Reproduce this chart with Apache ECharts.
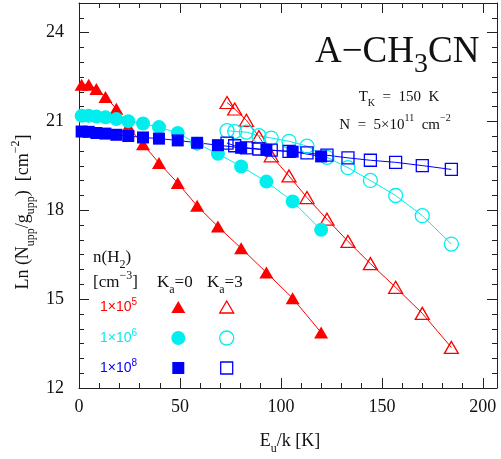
<!DOCTYPE html>
<html>
<head>
<meta charset="utf-8">
<script src="https://cdn.jsdelivr.net/npm/echarts@6/dist/echarts.min.js"></script>
<style>
  html, body { margin: 0; padding: 0; background: #ffffff; }
  #chart { width: 501px; height: 459px; }
</style>
</head>
<body>
<div id="chart"></div>
<script>
// Upper-level energies (K) of the K=0 and K=3 ladders
const energyK0 = [1.3, 4.8, 8.6, 13.1, 18.5, 24.4, 31.7, 39.6, 48.9, 58.5, 68.8, 80.3, 92.8, 105.8, 119.9];
const energyK3 = [73.3, 77.1, 82.9, 89.1, 95.2, 104.0, 112.9, 122.8, 133.2, 144.3, 156.8, 170.0, 184.4];

// Ln(Nupp/gupp) for n(H2) = 1e5, 1e6, 1e8 cm^-3
const lnK0_n5 = [22.24, 22.24, 22.10, 21.83, 21.43, 20.83, 20.23, 19.60, 18.92, 18.15, 17.45, 16.72, 15.90, 15.03, 13.87];
const lnK3_n5 = [21.64, 21.42, 21.04, 20.49, 19.84, 19.16, 18.43, 17.70, 16.95, 16.20, 15.40, 14.52, 13.37];
const lnK0_n6 = [21.19, 21.19, 21.17, 21.14, 21.08, 21.01, 20.93, 20.81, 20.61, 20.25, 19.91, 19.48, 18.97, 18.30, 17.34];
const lnK3_n6 = [20.69, 20.66, 20.64, 20.52, 20.44, 20.33, 20.17, 19.79, 19.44, 19.01, 18.50, 17.82, 16.86];
const lnK0_n8 = [20.66, 20.65, 20.61, 20.59, 20.55, 20.51, 20.46, 20.42, 20.36, 20.28, 20.20, 20.11, 20.04, 19.98, 19.82];
const lnK3_n8 = [20.27, 20.18, 20.11, 20.07, 20.03, 19.99, 19.94, 19.86, 19.77, 19.69, 19.62, 19.51, 19.38];

// Axis tick labels
const xTickLabels = [0, 50, 100, 150, 200];
const yTickLabels = [12, 15, 18, 21, 24];

const RED = '#ff0000', CYAN = '#00eeee', BLUE = '#0000ff';
const SERIF = '"Liberation Serif", "DejaVu Serif", serif';
const SANS = '"Liberation Sans", "DejaVu Sans", sans-serif';

const TRI = [14, 12], CIRC = 14, SQ = 12;

function ladder(xs, ys, color, symbol, size, filled) {
  return {
    type: 'line',
    data: xs.map((x, i) => [x, ys[i]]),
    symbol: symbol,
    symbolSize: size,
    showAllSymbol: true,
    lineStyle: { color: color, width: 1 },
    itemStyle: filled
      ? { color: color, borderWidth: 0 }
      : { color: 'rgba(255,255,255,0)', borderColor: color, borderWidth: 1.3 },
    emphasis: { disabled: true },
    silent: true,
    xAxisIndex: 0,
    yAxisIndex: 0
  };
}

const axisLineStyle = { color: '#222', width: 1 };

function xAxisLayer(position, interval, tickLen, withLine, withLabels) {
  return {
    type: 'value', position: position, min: 0, max: 207, interval: interval,
    axisLine: { show: withLine, onZero: false, lineStyle: axisLineStyle },
    axisTick: { show: true, inside: true, length: tickLen, lineStyle: axisLineStyle },
    axisLabel: withLabels ? {
      show: true, margin: 10, showMaxLabel: false,
      color: '#111', fontFamily: SERIF, fontSize: 18,
      formatter: v => (xTickLabels.indexOf(v) >= 0 ? String(v) : '')
    } : { show: false },
    splitLine: { show: false }
  };
}

function yAxisLayer(position, interval, tickLen, withLine, withLabels) {
  return {
    type: 'value', position: position, min: 12, max: 25, interval: interval,
    axisLine: { show: withLine, onZero: false, lineStyle: axisLineStyle },
    axisTick: { show: true, inside: true, length: tickLen, lineStyle: axisLineStyle },
    axisLabel: withLabels ? {
      show: true, margin: 15, showMaxLabel: false,
      color: '#111', fontFamily: SERIF, fontSize: 18,
      formatter: v => (yTickLabels.indexOf(v) >= 0 ? String(v) : '')
    } : { show: false },
    splitLine: { show: false }
  };
}

const richBase = (size) => ({
  b: { fontFamily: SERIF, fontSize: size, lineHeight: Math.round(size * 1.5), verticalAlign: 'middle', fill: '#111' },
  sub: { fontFamily: SERIF, fontSize: Math.round(size * 0.68), lineHeight: Math.round(size * 0.68), verticalAlign: 'bottom', fill: '#111' },
  sup: { fontFamily: SERIF, fontSize: Math.round(size * 0.68), lineHeight: Math.round(size * 0.68), verticalAlign: 'top', fill: '#111' }
});

function label(x, y, text, size, align, extra) {
  return Object.assign({
    type: 'text', x: x, y: y, silent: true,
    style: {
      text: text, rich: richBase(size),
      align: align, textAlign: align, verticalAlign: 'middle', textVerticalAlign: 'middle'
    }
  }, extra || {});
}

function densityLabel(y, exp, color) {
  return {
    type: 'text', x: 100, y: y, silent: true,
    style: {
      text: '{a|1×10}{e|' + exp + '}',
      fill: color,
      rich: {
        a: { fontFamily: SANS, fontSize: 14, lineHeight: 20, verticalAlign: 'middle', fill: color },
        e: { fontFamily: SANS, fontSize: 10, lineHeight: 10, verticalAlign: 'top', fill: color }
      },
      align: 'left', textAlign: 'left', verticalAlign: 'middle', textVerticalAlign: 'middle'
    }
  };
}

const legendX0 = 178.3, legendX3 = 226.7;
const rowY = [307, 338, 368];

function triangleMark(cx, cy, color, filled) {
  const w = TRI[0], h = TRI[1];
  return {
    type: 'polygon', silent: true,
    shape: { points: [[cx, cy - h / 2], [cx + w / 2, cy + h / 2], [cx - w / 2, cy + h / 2]] },
    style: filled ? { fill: color } : { fill: 'none', stroke: color, lineWidth: 1.3 }
  };
}
function circleMark(cx, cy, color, filled) {
  return {
    type: 'circle', silent: true,
    shape: { cx: cx, cy: cy, r: CIRC / 2 },
    style: filled ? { fill: color } : { fill: 'none', stroke: color, lineWidth: 1.3 }
  };
}
function squareMark(cx, cy, color, filled) {
  return {
    type: 'rect', silent: true,
    shape: { x: cx - SQ / 2, y: cy - SQ / 2, width: SQ, height: SQ },
    style: filled ? { fill: color } : { fill: 'none', stroke: color, lineWidth: 1.3 }
  };
}

const chart = echarts.init(document.getElementById('chart'), null, { renderer: 'canvas' });

chart.setOption({
  animation: false,
  backgroundColor: '#ffffff',
  grid: { left: 79, right: 4, top: 3, bottom: 71, containLabel: false },
  xAxis: [
    xAxisLayer('bottom', 10, 5, true, true),
    xAxisLayer('bottom', 50, 10, false, false),
    xAxisLayer('top', 10, 5, true, false),
    xAxisLayer('top', 50, 10, false, false)
  ],
  yAxis: [
    yAxisLayer('left', 0.5, 5, true, true),
    yAxisLayer('left', 3, 10, false, false),
    yAxisLayer('right', 0.5, 5, true, false),
    yAxisLayer('right', 3, 10, false, false)
  ],
  series: [
    ladder(energyK3, lnK3_n5, RED, 'triangle', TRI, false),
    ladder(energyK0, lnK0_n5, RED, 'triangle', TRI, true),
    ladder(energyK3, lnK3_n6, CYAN, 'circle', CIRC, false),
    ladder(energyK0, lnK0_n6, CYAN, 'circle', CIRC, true),
    ladder(energyK3, lnK3_n8, BLUE, 'rect', SQ, false),
    ladder(energyK0, lnK0_n8, BLUE, 'rect', SQ, true)
  ],
  graphic: [
    // molecule name and model parameters
    {
      type: 'text', x: 315, y: 52, silent: true,
      style: {
        text: '{b|A−CH}{s|3}{b|CN}',
        rich: {
          b: { fontFamily: SERIF, fontSize: 37, lineHeight: 54, verticalAlign: 'middle', fill: '#111' },
          s: { fontFamily: SERIF, fontSize: 28, lineHeight: 28, verticalAlign: 'bottom', fill: '#111' }
        },
        align: 'left', textAlign: 'left', verticalAlign: 'middle', textVerticalAlign: 'middle'
      }
    },
    label(399, 97, '{b|T}{sub|K}{b|  =  150  K}', 15, 'center'),
    label(395, 125, '{b|N  =  5×10}{sup|11}{b|  cm}{sup|−2}', 15, 'center'),

    // density / ladder key
    label(93, 258, '{b|n(H}{sub|2}{b|)}', 17, 'left'),
    label(93, 283, '{b|[cm}{sup|−3}{b|]}', 17, 'left'),
    label(157, 283, '{b|K}{sub|a}{b|=0}', 17, 'left'),
    label(207, 283, '{b|K}{sub|a}{b|=3}', 17, 'left'),
    densityLabel(rowY[0], '5', RED),
    densityLabel(rowY[1], '6', CYAN),
    densityLabel(rowY[2], '8', BLUE),
    triangleMark(legendX0, rowY[0], RED, true),
    triangleMark(legendX3, rowY[0], RED, false),
    circleMark(legendX0, rowY[1], CYAN, true),
    circleMark(legendX3, rowY[1], CYAN, false),
    squareMark(legendX0, rowY[2], BLUE, true),
    squareMark(legendX3, rowY[2], BLUE, false),

    // axis titles
    label(290, 441, '{b|E}{sub|u}{b|/k [K]}', 18, 'center'),
    label(23, 212, '{b|Ln (N}{sub|upp}{b|/g}{sub|upp}{b|)  [cm}{sup|−2}{b|]}', 18, 'center', { rotation: Math.PI / 2 })
  ]
});
</script>
</body>
</html>
